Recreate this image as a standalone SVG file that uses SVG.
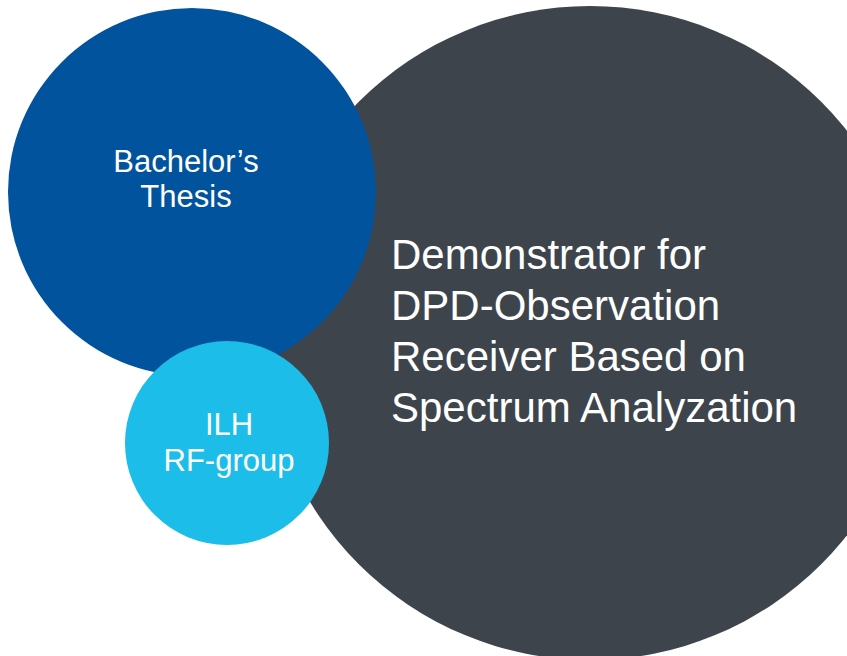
<svg xmlns="http://www.w3.org/2000/svg" width="847" height="656" viewBox="0 0 847 656">
  <style>
    text { font-family: "Liberation Sans", Arial, sans-serif; fill: #ffffff; }
    .small { font-size: 31px; text-anchor: middle; }
    .large { font-size: 42px; }
  </style>
  <rect width="847" height="656" fill="#ffffff"/>
  <g id="project">
    <circle cx="590" cy="333" r="327" fill="#3e444c"/>
    <text class="large" x="391" y="269">Demonstrator for</text>
    <text class="large" x="391" y="320">DPD-Observation</text>
    <text class="large" x="391" y="371">Receiver Based on</text>
    <text class="large" x="391" y="422">Spectrum Analyzation</text>
  </g>
  <g id="thesis">
    <circle cx="192" cy="192" r="184" fill="#01539e"/>
    <text class="small" x="186" y="172">Bachelor’s</text>
    <text class="small" x="186" y="207">Thesis</text>
  </g>
  <g id="group">
    <circle cx="227" cy="443" r="102" fill="#1dbde9"/>
    <text class="small" x="229" y="435">ILH</text>
    <text class="small" x="229" y="471">RF-group</text>
  </g>
  <g id="connectors"/>
</svg>
